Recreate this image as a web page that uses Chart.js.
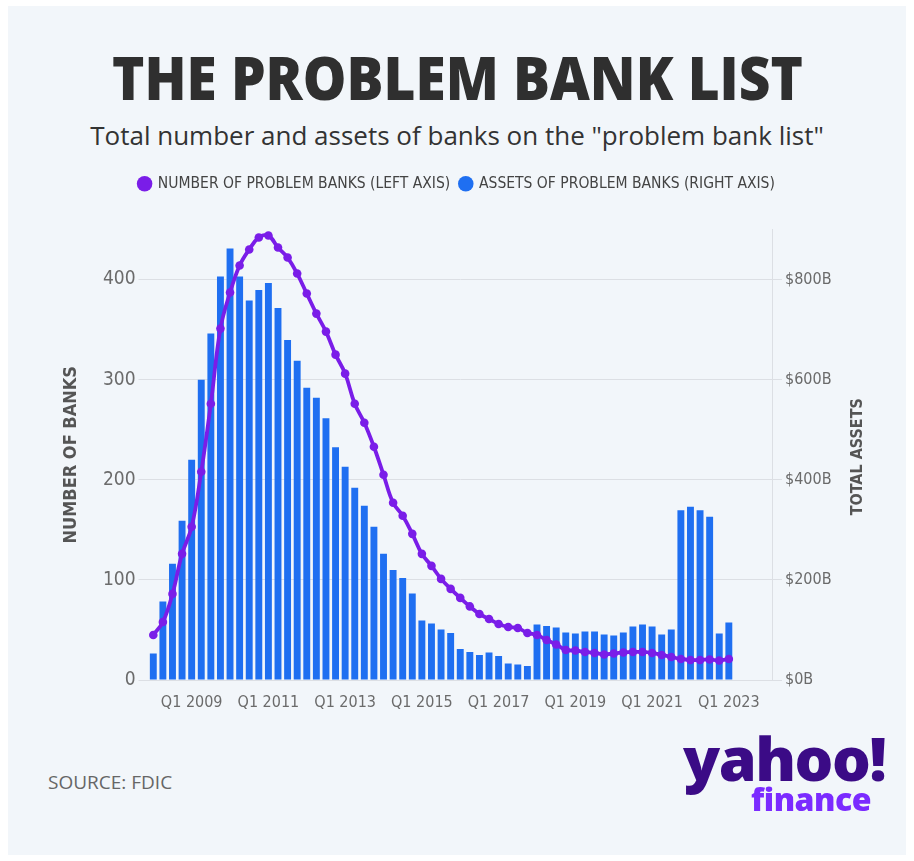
<!DOCTYPE html>
<html>
<head>
<meta charset="utf-8">
<script src="https://cdn.jsdelivr.net/npm/chart.js@4.4.1/dist/chart.umd.min.js"></script>
<style>
  html, body { margin: 0; padding: 0; background: #ffffff; }
  #frame {
    position: absolute; left: 8px; top: 6px; width: 898px; height: 849px;
    background: #f2f6fa; overflow: hidden;
  }
  #title {
    position: absolute; left: 0; top: 36px; width: 914px; text-align: center;
    font-family: "Open Sans", sans-serif; font-weight: 800; font-size: 60px;
    color: #2f2f2f; line-height: 70px; margin-left: -8px;
  }
  #title span { display: inline-block; transform-origin: center; }
  #subtitle {
    position: absolute; left: 0; top: 111px; width: 914px; text-align: center;
    font-family: "Open Sans", sans-serif; font-size: 26px; color: #333;
    margin-left: -8px;
  }
  #chart { position: absolute; left: -8px; top: 154px; }
  #source {
    position: absolute; left: 40px; top: 763px;
    font-family: "Open Sans", sans-serif; font-size: 19px; color: #666;
  }
  #yahoo {
    position: absolute; left: 675px; top: 717px;
    font-family: "Open Sans", sans-serif; font-weight: 800; font-size: 61px;
    color: #3b0b86; letter-spacing: -1.5px; line-height: 70px;
  }
  #finance {
    position: absolute; left: 743px; top: 773px;
    font-family: "Open Sans", sans-serif; font-weight: 800; font-size: 32px;
    color: #7b2bff; line-height: 40px; letter-spacing: -0.5px;
  }
</style>
</head>
<body>
<div id="frame">
  <div id="title"><span>THE PROBLEM BANK LIST</span></div>
  <div id="subtitle">Total number and assets of banks on the "problem bank list"</div>
  <canvas id="chart" width="914" height="568"></canvas>
  <div id="source">SOURCE: FDIC</div>
  <div id="yahoo">yahoo!</div>
  <div id="finance">finance</div>
</div>
<script>
// quarters Q1 2008 .. Q1 2024 (last four are empty slots on the axis)
const quarters = [];
for (let y = 2008; y <= 2024; y++) {
  for (let q = 1; q <= 4; q++) {
    if (y === 2024 && q > 1) break;
    quarters.push("Q" + q + " " + y);
  }
}
const shownTicks = ["Q1 2009", "Q1 2011", "Q1 2013", "Q1 2015", "Q1 2017", "Q1 2019", "Q1 2021", "Q1 2023"];

// number of problem banks (left axis)
const problemBanks = [
  45, 58, 86, 126, 153, 208, 276, 351,
  387, 414, 430, 442, 444, 432, 422, 406,
  386, 366, 348, 325, 306, 276, 257, 233,
  205, 177, 164, 146, 126, 114, 101, 91,
  82, 73.5, 66, 61, 56, 53, 52, 47,
  45, 40, 35.5, 30, 29.5, 28, 27, 25.5,
  26.5, 27.5, 28, 28, 27, 25, 23, 21,
  20, 20, 20.5, 19.5, 21
];
// assets of problem banks, $B (right axis)
const problemAssets = [
  53, 157, 232, 318, 440, 600, 692, 806,
  862, 806, 758, 779, 793, 743, 679, 638,
  584, 564, 523, 465, 426, 384, 348, 306,
  252, 220, 204, 173, 119, 113, 101, 94,
  62, 56, 50, 55, 48, 33, 31, 28,
  111, 108, 105, 95, 93, 97, 97, 91,
  89, 95, 107, 111, 107, 91, 101, 339,
  346, 339, 326, 93, 115
];
const leftTicks = [0, 100, 200, 300, 400];
const rightTicks = [0, 200, 400, 600, 800];

const purple = "#7a1de8";
const blue = "#1f6ff1";
const narrow = '"DejaVu Sans Condensed", "Liberation Sans Narrow", sans-serif';

// extra gap under legend
const legendSpace = {
  id: "legendSpace",
  beforeInit(chart) {
    const fit = chart.legend.fit;
    chart.legend.fit = function () {
      fit.bind(chart.legend)();
      this.height += 28;
    };
  }
};

// right axis title reads bottom-to-top like the left one
const rightTitle = {
  id: "rightTitle",
  afterDraw(chart) {
    const { ctx, chartArea } = chart;
    ctx.save();
    ctx.translate(chart.width - 56, (chartArea.top + chartArea.bottom) / 2 + 2);
    ctx.rotate(-Math.PI / 2);
    ctx.font = "bold 16px " + narrow;
    ctx.fillStyle = "#555";
    ctx.textAlign = "center";
    ctx.textBaseline = "middle";
    ctx.fillText("TOTAL ASSETS", 0, 0);
    ctx.restore();
  }
};

new Chart(document.getElementById("chart"), {
  data: {
    labels: quarters,
    datasets: [
      {
        type: "line",
        label: "NUMBER OF PROBLEM BANKS (LEFT AXIS)",
        data: problemBanks,
        yAxisID: "y",
        borderColor: purple,
        backgroundColor: purple,
        borderWidth: 3.8,
        pointRadius: 4.3,
        pointBackgroundColor: purple,
        pointBorderWidth: 0,
        tension: 0.4,
        order: 0
      },
      {
        type: "bar",
        label: "ASSETS OF PROBLEM BANKS (RIGHT AXIS)",
        data: problemAssets,
        yAxisID: "y1",
        backgroundColor: blue,
        barPercentage: 0.72,
        categoryPercentage: 1,
        order: 1
      }
    ]
  },
  options: {
    responsive: false,
    animation: false,
    layout: { padding: { top: 6, bottom: 4, left: 0, right: 0 } },
    plugins: {
      tooltip: { enabled: false },
      legend: {
        position: "top",
        labels: {
          usePointStyle: true,
          pointStyle: "circle",
          boxWidth: 11,
          boxHeight: 11,
          padding: 10,
          color: "#444",
          font: { family: narrow, size: 15.5 },
          generateLabels(chart) {
            return Chart.defaults.plugins.legend.labels.generateLabels(chart).map((l) => {
              l.lineWidth = 0;
              return l;
            });
          }
        }
      }
    },
    scales: {
      x: {
        afterFit(scale) { scale.height = 44; },
        grid: { display: false, drawTicks: false },
        border: { display: false },
        ticks: {
          autoSkip: false,
          maxRotation: 0,
          padding: 13,
          color: "#6b6b6b",
          font: { family: narrow, size: 16 },
          callback(v) {
            const l = quarters[v];
            return shownTicks.includes(l) ? l : "";
          }
        }
      },
      y: {
        position: "left",
        min: 0,
        max: 450,
        afterFit(scale) { scale.width = 148.5; },
        afterBuildTicks(scale) { scale.ticks = leftTicks.map((v) => ({ value: v })); },
        grid: { color: "#dcdfe4", tickLength: 10, lineWidth: 1 },
        border: { display: false },
        ticks: { color: "#6b6b6b", padding: 3, font: { family: narrow, size: 19 } },
        title: {
          display: true,
          text: "NUMBER OF BANKS",
          color: "#555",
          font: { family: narrow, size: 18, weight: "bold" },
          padding: { top: 61, bottom: 0 }
        }
      },
      y1: {
        position: "right",
        min: 0,
        max: 900,
        afterFit(scale) { scale.width = 142; },
        afterBuildTicks(scale) { scale.ticks = rightTicks.map((v) => ({ value: v })); },
        grid: { drawOnChartArea: false, color: "#dcdfe4", tickLength: 10 },
        border: { display: true, color: "#dcdfe4" },
        ticks: {
          color: "#6b6b6b",
          padding: 3,
          font: { family: narrow, size: 16 },
          callback: (v) => "$" + v + "B"
        }
      }
    }
  },
  plugins: [legendSpace, rightTitle]
});

// squeeze the heavy title to the reference width
const t = document.querySelector("#title span");
t.style.transform = "scaleX(" + (691 / t.offsetWidth) + ")";
</script>
</body>
</html>
